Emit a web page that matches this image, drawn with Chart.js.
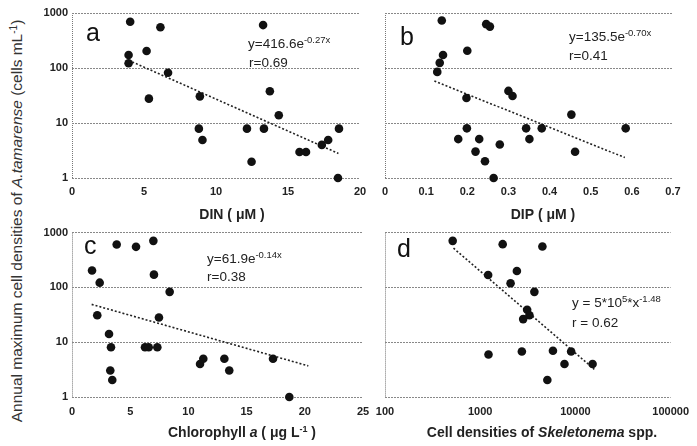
<!DOCTYPE html>
<html><head><meta charset="utf-8">
<script src="https://cdn.jsdelivr.net/npm/chart.js@4/dist/chart.umd.min.js"></script>
<style>
html,body{margin:0;padding:0;background:#fff;width:697px;height:446px;overflow:hidden;position:relative;}
canvas{position:absolute;}
#ytitle{position:absolute;left:17px;top:221px;transform:translate(-50%,-50%) rotate(-90deg);white-space:nowrap;
font-family:"Liberation Sans",Arial,sans-serif;font-size:15.5px;color:#333;line-height:1;}
#ytitle sup{font-size:10px;vertical-align:5px;line-height:0;}
</style></head><body>
<div id="ytitle">Annual maximum cell densities of <i>A.tamarense</i> (cells mL<sup>-1</sup>)</div>
<canvas id="ca" style="left:0;top:0" width="380" height="222"></canvas>
<canvas id="cb" style="left:360px;top:0" width="337" height="222"></canvas>
<canvas id="cc" style="left:0;top:222px" width="380" height="224"></canvas>
<canvas id="cd" style="left:360px;top:222px" width="337" height="224"></canvas>
<script>
// ---- data ----
const yTicks = [1, 10, 100, 1000];

const dinX = [4.04, 3.93, 3.93, 5.18, 6.14, 6.67, 5.34, 8.88, 8.81, 9.06, 12.15, 12.47, 13.27, 13.33, 13.74, 14.36, 15.8, 16.25, 17.35, 17.79, 18.54, 18.47];
const dinY = [693, 172, 122, 204, 550, 82, 27.7, 30.5, 7.9, 4.9, 7.9, 1.98, 603, 7.9, 37.7, 13.8, 2.97, 2.97, 4.0, 4.9, 7.9, 1.0];
const dinTrendX = [3.93, 18.5];
const dinTrendY = [138, 2.8];
const dinTicks = [0, 5, 10, 15, 20];

const dipX = [0.138, 0.246, 0.255, 0.2, 0.141, 0.133, 0.127, 0.3, 0.31, 0.198, 0.453, 0.199, 0.343, 0.381, 0.585, 0.178, 0.229, 0.351, 0.279, 0.22, 0.462, 0.243, 0.264];
const dipY = [729, 627, 566, 206, 172, 124, 85, 38.3, 31, 28.5, 14.2, 8, 8, 8, 8, 5.1, 5.1, 5.1, 4.06, 3.02, 3.0, 2.01, 1.0];
const dipTrendX = [0.12, 0.583];
const dipTrendY = [58, 2.35];
const dipTicks = [0, 0.1, 0.2, 0.3, 0.4, 0.5, 0.6, 0.7];

const chlX = [6.99, 3.84, 5.5, 1.72, 7.04, 2.38, 8.39, 2.17, 7.47, 3.18, 3.35, 6.27, 6.59, 7.33, 11.28, 11.0, 13.09, 13.51, 17.27, 3.29, 3.46, 18.67];
const chlY = [707, 606, 550, 204, 171, 122, 83, 31, 28.3, 14.1, 8.1, 8.1, 8.1, 8.1, 5.0, 4.0, 5.0, 3.05, 5.0, 3.05, 2.04, 1.0];
const chlTrendX = [1.69, 20.3];
const chlTrendY = [49, 3.7];
const chlTicks = [0, 5, 10, 15, 20, 25];

const skelX = [514, 1722, 4498, 2427, 1211, 2084, 3706, 3111, 3289, 2825, 1222, 2738, 5804, 9011, 7674, 15140, 5070];
const skelY = [707, 615, 556, 199, 168, 119, 83, 39, 31, 26.4, 5.96, 6.76, 7.0, 6.76, 4.0, 4.0, 2.04];
const skelTrendX = [524, 15780];
const skelTrendY = [520, 3.2];
const skelTicks = [100, 1000, 10000, 100000];

// ---- helpers ----
const FF = '"Liberation Sans", Arial, sans-serif';
function pts(xs, ys) { return xs.map((x, i) => ({x: x, y: ys[i]})); }

function drawRich(ctx, parts, x, y, align) {
  let w = 0;
  parts.forEach(p => { ctx.font = p.font; p.w = ctx.measureText(p.t).width; w += p.w; });
  let cx = align === 'center' ? x - w / 2 : x;
  ctx.textAlign = 'left';
  ctx.textBaseline = 'alphabetic';
  parts.forEach(p => { ctx.font = p.font; ctx.fillStyle = p.color || '#222'; ctx.fillText(p.t, cx, y + (p.dy || 0)); cx += p.w; });
}

function makeChart(cfg) {
  const el = document.getElementById(cfg.id);
  const offX = cfg.left, offY = cfg.top;
  const textPlugin = {
    id: 'txt_' + cfg.id,
    afterDraw(chart) {
      const ctx = chart.ctx;
      ctx.save();
      cfg.texts.forEach(t => drawRich(ctx, t.parts, t.x - offX, t.y - offY, t.align));
      ctx.restore();
    }
  };
  return new Chart(el, {
    type: 'scatter',
    data: {
      datasets: [
        {
          data: pts(cfg.tx, cfg.ty), showLine: true, borderColor: '#222', borderWidth: 1.6,
          borderDash: [2, 2], pointRadius: 0, fill: false, order: 2, clip: false
        },
        {
          data: pts(cfg.xs, cfg.ys), pointRadius: 4.3, pointBackgroundColor: '#111',
          pointBorderColor: '#111', pointBorderWidth: 0, order: 1, clip: false
        }
      ]
    },
    options: {
      responsive: false, animation: false, devicePixelRatio: 1,
      layout: {padding: {top: cfg.padTop, right: cfg.padRight, bottom: 0, left: 0}},
      plugins: {legend: {display: false}, tooltip: {enabled: false}},
      scales: {
        x: {
          type: cfg.xType, min: cfg.xMin, max: cfg.xMax,
          afterBuildTicks: s => { s.ticks = cfg.xTicks.map(v => ({value: v})); },
          afterFit: s => { s.height = cfg.xH; },
          ticks: {
            autoSkip: false, maxRotation: 0, padding: cfg.xPad, color: '#222', z: 1,
            font: {family: FF, size: 11, weight: 'bold'},
            callback: v => String(v)
          },
          grid: {color: c => c.index === 0 ? '#777' : 'rgba(0,0,0,0)', drawTicks: false, lineWidth: 1},
          border: {display: false, dash: [1, 1]}
        },
        y: {
          type: 'logarithmic', min: 1, max: 1000,
          afterBuildTicks: s => { s.ticks = yTicks.map(v => ({value: v})); },
          afterFit: s => { s.width = cfg.yW; },
          ticks: {
            display: true, padding: 4, color: cfg.showY ? '#222' : 'rgba(0,0,0,0)',
            font: {family: FF, size: 11, weight: 'bold'},
            callback: v => String(v)
          },
          grid: {color: '#888', drawTicks: false, lineWidth: 1},
          border: {display: false, dash: [2, 1]}
        }
      }
    },
    plugins: [textPlugin]
  });
}

const EQ = '13.5px ' + FF, SUP = '9.5px ' + FF, LET = '25px ' + FF;
const TB = 'bold 14px ' + FF, TBI = 'italic bold 14px ' + FF, TSUP = 'bold 9px ' + FF;

makeChart({
  id: 'ca', left: 0, top: 0, padTop: 13, padRight: 20, yW: 72, xH: 44, xPad: 7, showY: true,
  xType: 'linear', xMin: 0, xMax: 20, xTicks: dinTicks,
  xs: dinX, ys: dinY, tx: dinTrendX, ty: dinTrendY,
  texts: [
    {x: 86, y: 41, parts: [{t: 'a', font: LET, color: '#111'}]},
    {x: 248, y: 48, parts: [{t: 'y=416.6e', font: EQ}, {t: '-0.27x', font: SUP, dy: -5}]},
    {x: 249, y: 66.5, parts: [{t: 'r=0.69', font: EQ}]},
    {x: 232, y: 219, align: 'center', parts: [{t: 'DIN ( μM )', font: TB}]}
  ]
});

makeChart({
  id: 'cb', left: 360, top: 0, padTop: 13, padRight: 24, yW: 25, xH: 44, xPad: 7, showY: false,
  xType: 'linear', xMin: 0, xMax: 0.7, xTicks: dipTicks,
  xs: dipX, ys: dipY, tx: dipTrendX, ty: dipTrendY,
  texts: [
    {x: 400, y: 45, parts: [{t: 'b', font: LET, color: '#111'}]},
    {x: 569, y: 41, parts: [{t: 'y=135.5e', font: EQ}, {t: '-0.70x', font: SUP, dy: -5}]},
    {x: 569, y: 60, parts: [{t: 'r=0.41', font: EQ}]},
    {x: 543, y: 219, align: 'center', parts: [{t: 'DIP ( μM )', font: TB}]}
  ]
});

makeChart({
  id: 'cc', left: 0, top: 222, padTop: 9, padRight: 17, yW: 72, xH: 49, xPad: 8, showY: true,
  xType: 'linear', xMin: 0, xMax: 25, xTicks: chlTicks,
  xs: chlX, ys: chlY, tx: chlTrendX, ty: chlTrendY,
  texts: [
    {x: 84, y: 254, parts: [{t: 'c', font: LET, color: '#111'}]},
    {x: 207, y: 262.5, parts: [{t: 'y=61.9e', font: EQ}, {t: '-0.14x', font: SUP, dy: -5}]},
    {x: 207, y: 281, parts: [{t: 'r=0.38', font: EQ}]},
    {x: 242, y: 437, align: 'center', parts: [
      {t: 'Chlorophyll ', font: TB}, {t: 'a', font: TBI}, {t: ' ( μg L', font: TB},
      {t: '-1', font: TSUP, dy: -5}, {t: ' )', font: TB}]}
  ]
});

makeChart({
  id: 'cd', left: 360, top: 222, padTop: 9, padRight: 24, yW: 25, xH: 49, xPad: 8, showY: false,
  xType: 'logarithmic', xMin: 100, xMax: 100000, xTicks: skelTicks,
  xs: skelX, ys: skelY, tx: skelTrendX, ty: skelTrendY,
  texts: [
    {x: 397, y: 257, parts: [{t: 'd', font: LET, color: '#111'}]},
    {x: 572, y: 306.5, parts: [{t: 'y = 5*10', font: EQ}, {t: '5', font: SUP, dy: -5}, {t: '*x', font: EQ}, {t: '-1.48', font: SUP, dy: -5}]},
    {x: 572, y: 327, parts: [{t: 'r = 0.62', font: EQ}]},
    {x: 542, y: 437, align: 'center', parts: [
      {t: 'Cell densities of ', font: TB}, {t: 'Skeletonema', font: TBI}, {t: ' spp.', font: TB}]}
  ]
});
</script>
</body></html>
